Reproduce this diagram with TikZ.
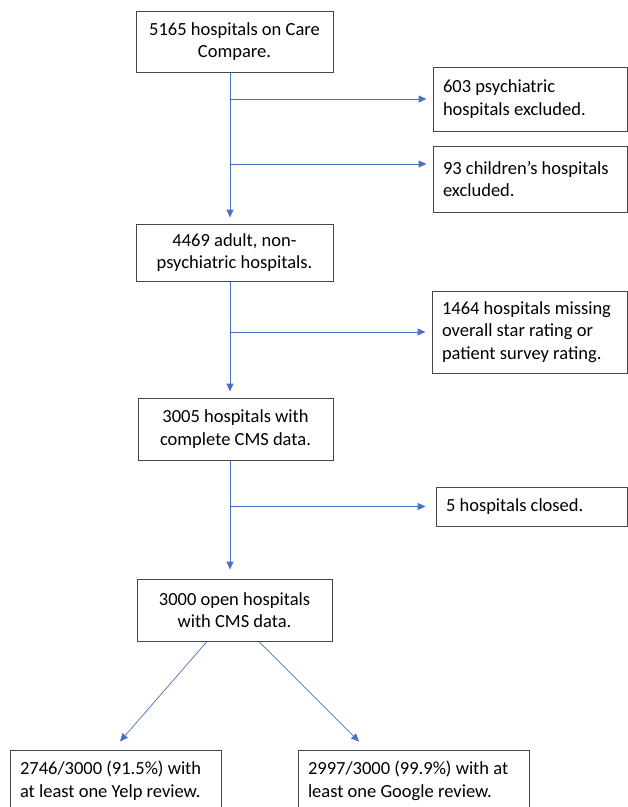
\documentclass[tikz,border=0pt]{standalone}
\usepackage{fontspec}
\setmainfont{Carlito}
\usetikzlibrary{arrows.meta}

\definecolor{flowblue}{RGB}{68,114,196}
\definecolor{boxgray}{RGB}{70,70,70}

\begin{document}
\begin{tikzpicture}[x=1pt, y=-1pt,
  box/.style={draw=boxgray, line width=1pt, inner sep=0pt,
              font=\fontsize{18.5}{22.7}\selectfont, align=center},
  lbox/.style={box, align=flush left, inner xsep=10pt},
  flow/.style={draw=flowblue, line width=1pt,
               -{Triangle[length=8pt,width=7pt]}, shorten >=6pt}]

  % page frame (fixes the margins)
  \useasboundingbox (0,0) rectangle (628,807);

  % main column
  \node[box, minimum width=197pt, minimum height=61pt] (n5165) at (234.5,41.5)
    {5165 hospitals on Care\\Compare.};
  \node[box, minimum width=197pt, minimum height=57pt] (n4469) at (234.5,252.5)
    {4469 adult, non-\\psychiatric hospitals.};
  \node[box, minimum width=195pt, minimum height=62pt] (n3005) at (235.5,429)
    {3005 hospitals with\\complete CMS data.};
  \node[box, minimum width=195pt, minimum height=62pt] (n3000) at (234.5,610)
    {3000 open hospitals\\with CMS data.};

  % exclusions (right column)
  \node[lbox, text width=174pt, minimum height=64pt] (n603) at (530,99)
    {603 psychiatric\\hospitals excluded.};
  \node[lbox, text width=174pt, minimum height=66pt] (n93) at (530,179)
    {93 children’s hospitals\\excluded.};
  \node[lbox, text width=175pt, minimum height=82pt] (n1464) at (529.5,332)
    {1464 hospitals missing\\overall star rating or\\patient survey rating.};
  \node[lbox, text width=171pt, minimum height=39pt] (nclosed) at (531.5,506.5)
    {5 hospitals closed.};

  % final split (bottom row, cut by the page edge)
  \node[lbox, text width=191pt, minimum height=62pt] (nyelp) at (115.5,781)
    {2746/3000 (91.5\%) with\\at least one Yelp review.};
  \node[lbox, text width=211pt, minimum height=62pt] (ngoogle) at (413.5,781)
    {2997/3000 (99.9\%) with at\\least one Google review.};

  % trunk line
  \coordinate (trunk) at (230,0);
  \draw[flow] (n5165.south -| trunk) -- (n4469.north -| trunk);
  \draw[flow] (n4469.south -| trunk) -- (n3005.north -| trunk);
  \draw[flow, shorten >=9pt] (n3005.south -| trunk) -- (n3000.north -| trunk);

  % side branches
  \foreach \n in {n603,n1464}
    \draw[flow] (trunk |- \n.west) -- (\n.west);
  \coordinate (in93) at ([yshift=15pt]n93.west);
  \draw[flow] (trunk |- in93) -- (in93);
  \draw[flow, shorten >=10pt] (trunk |- nclosed.west) -- (nclosed.west);

  % diagonals
  \draw[flow, line width=0.7pt, shorten >=10.6pt]
    ([xshift=-27.5pt]n3000.south) -- ([xshift=-2.5pt]nyelp.north);
  \draw[flow, line width=0.7pt, shorten >=11.2pt]
    ([xshift=24.5pt]n3000.south) -- ([xshift=-46.5pt]ngoogle.north);

\end{tikzpicture}
\end{document}
